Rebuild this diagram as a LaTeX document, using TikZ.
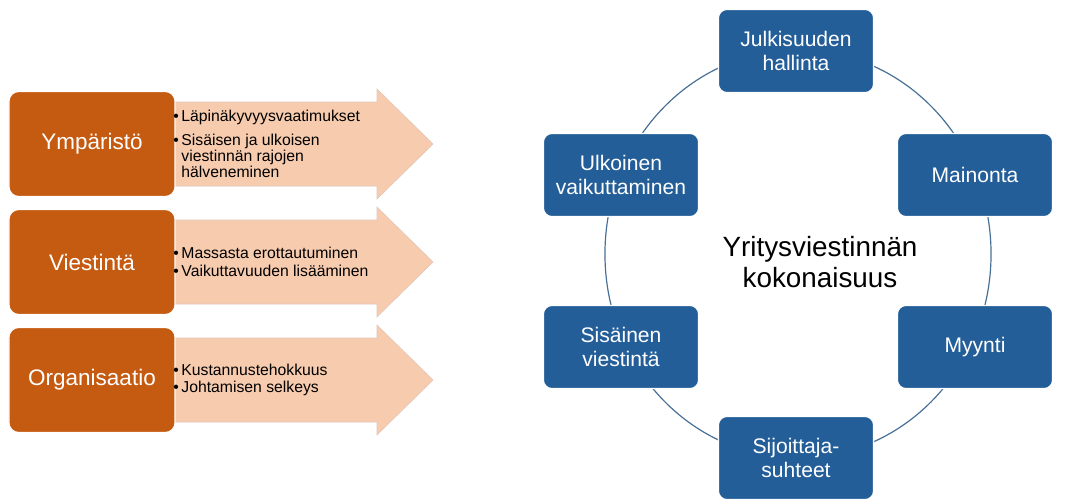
\documentclass[tikz,border=0pt]{standalone}
\usepackage{fontspec}
\setmainfont{Liberation Sans}
\usepackage{xcolor}
\usepackage{tikz}
\usetikzlibrary{positioning,calc}
\definecolor{rustorange}{RGB}{197, 90, 17}
\definecolor{peach}{RGB}{247, 203, 174}
\definecolor{peachedge}{RGB}{225, 198, 184}
\definecolor{deepblue}{RGB}{35, 94, 153}
\definecolor{ringblue}{RGB}{72, 112, 150}
\newcommand{\hang}{\phantom{\textbullet\,}}

\begin{document}
\begin{tikzpicture}[x=0.025cm, y=-0.025cm,
    factor/.style={fill=rustorange, draw=white, line width=0.8pt, rounded corners=7pt, minimum width=4.15cm, minimum height=2.625cm, text=white, font=\fontsize{16}{18}\selectfont},
    bullets/.style={anchor=west, align=left, inner sep=0pt, font=\fontsize{11.2}{10.4}\selectfont},
    fatarrow/.style={fill=peach, draw=peachedge, line width=0.4pt},
    area/.style={fill=deepblue, draw=white, line width=0.8pt, rounded corners=6pt, minimum width=3.875cm, minimum height=2.075cm, text=white, align=center, font=\fontsize{15}{17}\selectfont},
    ring/.style={draw=ringblue, line width=0.85pt}]
    \useasboundingbox (0,0) rectangle (1080,501);

    % left side: three drivers with arrows
    \foreach \y in {144,262,380}
        \draw[fatarrow] (165,\y-42) -- (377,\y-42) -- (377,\y-55) -- (433,\y) -- (377,\y+55) -- (377,\y+42) -- (165,\y+42) -- cycle;

    \node[factor] (ymp) at (92,144) {Ympäristö};
    \node[factor] (vie) at (92,262) {Viestintä};
    \node[factor] (org) at (92,380) {Organisaatio};

    \node[bullets] (ympt) at (173,144) {\textbullet\,Läpinäkyvyysvaatimukset\\[5pt]
        \textbullet\,Sisäisen ja ulkoisen\\ \hang viestinnän rajojen\\ \hang hälveneminen};
    \node[bullets] (viet) at (173,262) {\textbullet\,Massasta erottautuminen\\[2pt]
        \textbullet\,Vaikuttavuuden lisääminen};
    \node[bullets] (orgt) at (173,380) {\textbullet\,Kustannustehokkuus\\[2pt]
        \textbullet\,Johtamisen selkeys};

    % right side: cycle of communication areas
    \coordinate (ringc) at (798,254);
    \draw[ring] (ringc) ellipse [x radius=4.825cm, y radius=5.1cm];

    \node[area] (jul) at (796,51) {Julkisuuden\\hallinta};
    \node[area] (mai) at (975,175) {Mainonta};
    \node[area] (myy) at (975,347) {Myynti};
    \node[area] (sij) at (796,458) {Sijoittaja-\\suhteet};
    \node[area] (sis) at (621,347) {Sisäinen\\viestintä};
    \node[area] (ulk) at (621,175) {Ulkoinen\\vaikuttaminen};

    \node[align=center, font=\fontsize{19.8}{21.5}\selectfont] (whole) at (820,262) {Yritysviestinnän\\kokonaisuus};
\end{tikzpicture}
\end{document}
